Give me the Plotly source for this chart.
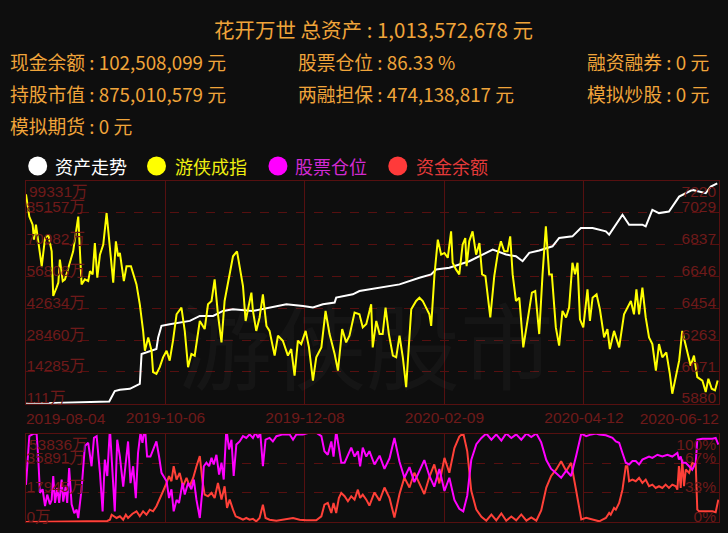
import plotly.graph_objects as go

# ---------------- data ----------------
x_tick_days = [0, 63, 126, 189, 252, 313]
x_tick_labels = ["2019-08-04", "2019-10-06", "2019-12-08", "2020-02-09", "2020-04-12", "2020-06-12"]

asset_ticks = [111, 14285, 28460, 42634, 56808, 70982, 85157, 99331]
index_ticks = [5880, 6071, 6263, 6454, 6646, 6837, 7029, 7220]
cash_ticks = [0, 17945, 35891, 53836]
pos_ticks = [0, 33.33, 66.67, 100]
pos_tick_labels = ["0%", "33%", "67%", "100%"]

# 资产走势 (万)
asset_days = [0, 12.3, 27.4, 37.6, 40.1, 42.4, 46.9, 50.2, 51.4, 52.2,
              54.4, 58.9, 59.7, 61.2, 64.9, 70.9, 74.0, 78.5, 84.5, 89.0,
              93.5, 102.5, 108.6, 114.6, 117.6, 125.1, 129.6, 134.1, 139.4, 140.1,
              147.6, 150.6, 159.7, 168.7, 177.7, 183.0, 185.2, 191.2, 200.2, 204.8,
              210.8, 216.8, 221.3, 224.3, 227.3, 231.8, 237.8, 240.8, 246.8, 250.6,
              255.9, 261.9, 263.4, 269.4, 272.4, 278.4, 279.9, 282.9, 285.9, 290.4,
              295.0, 301.0, 307.0, 309.3, 312.2]
asset_values = [111, 421, 687, 1130, 5737, 6313, 6756, 8217, 8971, 22258,
                23011, 24474, 29657, 34797, 35551, 36570, 37012, 39227, 39227, 41442,
                42196, 41442, 42639, 43656, 44406, 43656, 42947, 44406, 45164, 47379,
                48841, 50303, 51809, 53271, 56239, 57701, 59916, 60669, 63591, 65806,
                68776, 66561, 65806, 63591, 67314, 68333, 70238, 73959, 74668, 78389,
                78389, 76883, 75421, 84281, 79851, 79851, 79098, 86496, 85034, 85742,
                92388, 95356, 93894, 96815, 98318]

# 游侠成指
index_days = [0, 1.5, 3.0, 3.6, 4.5, 5.5, 7.1, 8.6, 10.1, 11.6,
              12.3, 13.8, 14.6, 15.3, 16.6, 17.6, 19.8, 21.3, 23.6, 25.1,
              26.6, 28.1, 28.9, 30.1, 31.1, 32.2, 33.4, 34.9, 36.4, 37.9,
              39.4, 40.6, 41.6, 42.4, 44.2, 45.4, 47.4, 49.9, 51.4, 52.9,
              53.7, 55.2, 56.7, 57.4, 58.9, 60.4, 61.9, 63.5, 64.9, 66.4,
              68.0, 70.2, 71.7, 73.2, 74.7, 76.2, 78.5, 80.7, 82.2, 83.8,
              85.2, 86.7, 88.3, 89.7, 92.0, 93.5, 95.3, 97.3, 98.0, 99.2,
              100.7, 101.8, 102.5, 104.0, 105.5, 107.0, 108.6, 110.0, 112.3, 113.8,
              116.0, 118.3, 119.8, 121.3, 122.8, 124.3, 126.3, 127.8, 129.6, 131.1,
              133.4, 135.3, 137.1, 139.4, 140.9, 142.8, 144.6, 146.1, 148.4, 150.6,
              152.1, 153.7, 155.9, 156.6, 158.2, 159.7, 161.1, 162.4, 163.9, 165.7,
              167.2, 168.7, 170.2, 171.7, 174.0, 176.2, 177.7, 179.2, 180.7, 182.2,
              183.0, 184.5, 186.0, 187.5, 189.0, 190.5, 192.0, 192.7, 194.2, 195.7,
              197.2, 198.4, 199.0, 200.2, 201.7, 203.3, 204.8, 206.0, 207.5, 209.7,
              211.5, 213.0, 214.5, 216.0, 217.5, 218.7, 219.8, 221.3, 222.8, 224.6,
              226.5, 228.5, 230.0, 231.8, 233.3, 234.8, 236.3, 237.5, 239.3, 240.8,
              242.3, 243.9, 245.3, 246.8, 248.0, 249.1, 250.2, 251.7, 253.6, 254.7,
              255.9, 257.7, 259.2, 261.1, 262.6, 263.7, 265.6, 267.9, 270.1, 271.6,
              273.2, 274.6, 275.7, 276.9, 278.4, 279.9, 281.4, 282.9, 284.5, 285.9,
              287.4, 289.2, 290.8, 291.9, 293.5, 295.0, 296.4, 298.7, 300.2, 301.7,
              303.2, 305.5, 307.0, 308.2, 309.7, 311.2, 312.4]
index_values = [7140, 7006, 6957, 6867, 6957, 6857, 6707, 6877, 6897, 6797,
                6528, 6578, 6608, 6747, 6618, 6628, 6728, 6797, 7006, 6598,
                6628, 6618, 6677, 6658, 6847, 6638, 6777, 6837, 7027, 6807,
                6608, 6857, 6767, 6787, 6618, 6707, 6707, 6598, 6478, 6318,
                6199, 6279, 6199, 6070, 6059, 6100, 6159, 6199, 6139, 6259,
                6418, 6458, 6318, 6100, 6179, 6169, 6378, 6329, 6478, 6498,
                6628, 6418, 6249, 6498, 6658, 6767, 6797, 6648, 6588, 6378,
                6468, 6548, 6438, 6318, 6399, 6538, 6348, 6318, 6169, 6289,
                6259, 6169, 6209, 6049, 6259, 6239, 6318, 6219, 6019, 6159,
                6219, 6438, 6299, 6179, 6079, 6329, 6249, 6289, 6428, 6418,
                6339, 6359, 6478, 6219, 6378, 6299, 6299, 6458, 6299, 6169,
                6159, 6289, 6159, 5980, 6448, 6498, 6518, 6498, 6458, 6418,
                6348, 6658, 6867, 6777, 6787, 6758, 6917, 6728, 6688, 6658,
                6837, 6877, 6707, 6857, 6917, 6777, 6847, 6658, 6648, 6399,
                6648, 6777, 6857, 6797, 6797, 6887, 6658, 6498, 6518, 6219,
                6378, 6548, 6558, 6299, 6658, 6947, 6658, 6658, 6339, 6229,
                6438, 6399, 6458, 6728, 6658, 6728, 6388, 6339, 6568, 6378,
                6518, 6538, 6448, 6279, 6329, 6209, 6318, 6219, 6418, 6458,
                6498, 6418, 6568, 6418, 6578, 6399, 6279, 6239, 6079, 6239,
                6159, 6189, 6059, 5940, 6040, 6139, 6318, 6179, 6109, 6169,
                6040, 6019, 5950, 6030, 5970, 5960, 6019]

# 股票仓位 (%)
pos_days = [0, 1.5, 3.3, 4.8, 5.5, 6.3, 7.5, 8.6, 9.6, 10.8,
            11.6, 12.3, 13.1, 14.1, 15.0, 16.1, 16.8, 17.9, 18.6, 19.5,
            20.6, 21.8, 22.9, 23.6, 25.1, 26.6, 28.1, 29.6, 30.7, 31.9,
            33.4, 34.6, 35.6, 36.7, 37.9, 39.1, 40.1, 41.2, 42.4, 43.9,
            45.1, 46.1, 47.2, 48.4, 49.6, 50.6, 51.7, 52.6, 53.7, 54.7,
            56.2, 57.4, 58.9, 60.1, 61.2, 63.5, 64.6, 65.7, 66.7, 68.0,
            69.1, 70.7, 71.7, 73.2, 74.7, 75.8, 77.0, 78.5, 79.7, 80.3,
            81.5, 82.7, 83.8, 84.8, 86.0, 87.2, 88.3, 89.3, 90.5, 91.7,
            92.8, 93.8, 95.0, 96.5, 98.0, 99.5, 101.0, 102.5, 103.7, 104.8,
            105.8, 107.0, 108.2, 110.0, 111.5, 113.1, 116.0, 119.1, 120.6, 122.1,
            125.1, 128.1, 131.1, 133.4, 134.8, 136.3, 137.9, 138.9, 140.1, 141.3,
            142.4, 143.9, 145.4, 146.9, 148.4, 149.9, 150.9, 152.1, 153.7, 155.1,
            157.4, 159.7, 161.9, 164.2, 166.4, 168.7, 170.9, 173.2, 175.4, 177.7,
            179.9, 182.2, 184.4, 186.7, 189.0, 191.2, 193.5, 195.7, 197.5, 199.3,
            201.1, 203.4, 205.7, 207.9, 210.2, 212.4, 214.7, 216.9, 219.2, 221.4,
            223.7, 226.0, 228.2, 230.5, 232.7, 235.0, 237.2, 239.5, 241.7, 244.0,
            246.2, 248.5, 250.8, 253.0, 255.3, 257.5, 258.9, 261.9, 264.9, 266.4,
            267.9, 269.4, 270.9, 272.4, 273.9, 275.4, 276.9, 278.4, 281.4, 282.9,
            285.2, 287.4, 289.7, 291.9, 294.2, 294.9, 295.7, 296.4, 298.0, 299.5,
            300.9, 302.5, 303.2, 305.5, 310.0, 311.5, 312.7]
pos_values = [42, 97, 99.7, 99.7, 74, 33, 37, 18, 31, 20,
              25, 52, 21.5, 38.5, 21.5, 48, 23, 40, 21.5, 61,
              20, 10, 14, 4.5, 37, 86, 89.5, 63, 95, 97,
              55.5, 12, 70.5, 52, 106, 52, 12, 93, 74, 40,
              69, 91, 44, 63, 27, 78, 100.8, 89.5, 108, 74,
              74, 82, 91, 74, 55.5, 46, 27, 37, 12, 25,
              21.5, 44, 31, 44, 37, 48, 25, 4.5, 37, 63,
              67, 63, 72.5, 65, 76, 53.5, 67, 48, 106, 82,
              93, 52, 87.5, 91, 97, 95, 99, 95, 101, 95,
              101, 63, 93, 95, 91, 97, 99, 99, 93, 99,
              99, 101, 101, 97, 80, 76, 91, 74, 103, 84,
              67, 67, 76, 84, 74, 80, 63, 84, 74, 80,
              65, 75, 60, 72, 95, 68, 50, 62, 45, 58,
              70, 52, 40, 60, 35, 50, 25, 15, 12, 30,
              70, 88, 95, 100, 93, 99, 92, 100, 95, 99,
              93, 100, 96, 100, 90, 70, 60, 55, 50, 58,
              52, 75, 100, 97, 99, 100, 99, 98, 95, 91,
              89.5, 78, 67, 65, 69, 69, 65, 70.5, 74, 72.5,
              76, 74, 76, 74, 78, 70.5, 74, 67, 67, 63,
              59, 67, 93, 94, 94, 95, 87.5]

# 资金余额 (万)
cash_days = [0, 8, 16, 24, 32, 36.7, 37.9, 38.7, 40.9, 42.4,
             43.9, 45.1, 46.1, 48.1, 49.9, 51.4, 52.9, 54.4, 55.9, 57.4,
             58.9, 60.4, 61.9, 63.5, 64.6, 65.7, 66.7, 68.0, 69.4, 70.9,
             72.5, 73.9, 75.5, 77.0, 78.5, 79.7, 80.7, 82.2, 83.8, 85.2,
             86.7, 88.3, 89.7, 90.8, 92.0, 93.5, 94.7, 96.5, 98.0, 99.5,
             101.0, 102.5, 104.0, 105.5, 107.0, 108.2, 110.0, 113.1, 116.0, 120.6,
             123.6, 126.6, 131.1, 133.4, 134.8, 136.3, 137.9, 138.9, 140.1, 141.3,
             142.4, 143.9, 145.4, 146.9, 148.4, 149.9, 150.9, 152.1, 153.7, 155.1,
             157.4, 159.7, 161.9, 164.2, 166.4, 168.7, 170.9, 173.2, 175.4, 177.7,
             179.9, 182.2, 184.4, 186.7, 189.0, 191.2, 193.5, 195.7, 197.5, 199.3,
             201.1, 203.4, 205.7, 207.9, 210.2, 212.4, 214.7, 216.9, 219.2, 221.4,
             223.7, 226.0, 228.2, 230.5, 232.7, 235.0, 237.2, 239.5, 241.7, 244.0,
             246.2, 248.5, 250.8, 253.0, 255.3, 257.5, 258.9, 260.4, 261.9, 263.4,
             264.1, 265.6, 266.4, 267.9, 269.4, 270.9, 271.6, 272.4, 273.9, 275.4,
             276.9, 278.4, 279.9, 281.4, 282.9, 284.4, 285.9, 287.4, 288.9, 290.4,
             291.9, 293.5, 294.2, 294.9, 295.7, 296.4, 297.2, 298.0, 299.5, 300.9,
             302.5, 303.2, 304.0, 310.0, 311.5, 312.7]
cash_values = [30, 60, 90, 150, 300, 600, 1400, 4450, 2440, 3470,
               1400, 4450, 2440, 5060, 6520, 3470, 6520, 4450, 7500, 6520,
               9570, 14630, 18700, 23780, 27860, 24810, 33960, 25790, 29880, 21760,
               26820, 21760, 26820, 33960, 40050, 24810, 16660, 15670, 17680, 14630,
               23780, 13600, 21760, 8540, 13600, 7500, 3470, 2440, 1400, 2440,
               1400, 1900, 400, 2440, 10540, 2440, 1400, 800, 1400, 2440,
               1400, 1000, 1000, 3470, 10540, 11580, 5490, 11580, 5490, 14630,
               17680, 15670, 12610, 15670, 13600, 19690, 14630, 16660, 13600, 10000,
               18000, 13000, 21000, 14500, 2700, 17000, 27000, 21000, 30000, 23500,
               17000, 27500, 35000, 23500, 39000, 30000, 45000, 52000, 54000, 43000,
               19000, 7500, 3200, 800, 4500, 1000, 5200, 800, 3300, 1000,
               4600, 800, 2800, 800, 7000, 21000, 28000, 32000, 37000, 31000,
               36000, 19000, 1500, 2500, 1500, 800, 400, 1400, 2440, 5490,
               4450, 8540, 7500, 11580, 19690, 33960, 33960, 24810, 25790, 24810,
               26820, 23780, 25790, 21760, 22740, 20730, 21760, 20730, 22740, 20730,
               22740, 21760, 19690, 33960, 20730, 37990, 21760, 31900, 29880, 35970,
               34960, 7500, 6520, 6520, 5910, 13600]

# ---------------- style ----------------
BG = "#0e0e0e"
GRID = "#561010"
LABEL = "#6e1a1a"
ORANGE = "#f0a43a"
CJK = "Noto Sans CJK SC"
NUMFONT = "Liberation Sans, Noto Sans CJK SC"

W, H = 728, 533
ML, MR, MT, MB = 26, 8, 181, 9
PW, PH = W - ML - MR, H - MT - MB


def px(x):
    return (x - ML) / PW


def py(y):
    return (H - MB - y) / PH


top_dom = [py(405), 1.0]
bot_dom = [0.0, py(435)]
xr = [x_tick_days[0], x_tick_days[-1]]

fig = go.Figure()
fig.add_trace(go.Scatter(x=asset_days, y=asset_values, mode="lines", name="资产走势",
                         line=dict(color="#ffffff", width=2), xaxis="x", yaxis="y"))
fig.add_trace(go.Scatter(x=index_days, y=index_values, mode="lines", name="游侠成指",
                         line=dict(color="#ffff00", width=2), xaxis="x", yaxis="y2"))
fig.add_trace(go.Scatter(x=cash_days, y=cash_values, mode="lines", name="资金余额",
                         line=dict(color="#ff4038", width=2), xaxis="x4", yaxis="y5"))
fig.add_trace(go.Scatter(x=pos_days, y=pos_values, mode="lines", name="股票仓位",
                         line=dict(color="#ff00ff", width=2), xaxis="x4", yaxis="y6"))

# empty helper traces so that the label-only overlay axes are drawn
for xa, ya in [("x2", "y9"), ("x3", "y9"), ("x", "y3"), ("x", "y4"), ("x4", "y7"), ("x4", "y8")]:
    fig.add_trace(go.Scatter(x=[None], y=[None], mode="lines", xaxis=xa, yaxis=ya,
                             hoverinfo="skip", showlegend=False))

tickfont = dict(color=LABEL, size=15.5, family=NUMFONT)
base_x = dict(range=xr, ticks="", zeroline=False, fixedrange=True, tickfont=tickfont)
base_y = dict(ticks="", zeroline=False, fixedrange=True, tickfont=tickfont, tickmode="array",
              ticklabeloverflow="allow")
SHIFT = 5

layout = dict(
    width=W, height=H, autosize=False,
    margin=dict(l=ML, r=MR, t=MT, b=MB, pad=0),
    paper_bgcolor=BG, plot_bgcolor=BG,
    showlegend=False,
    xaxis=dict(base_x, domain=[0, 1], anchor="y", tickmode="array",
               tickvals=x_tick_days[1:-1], ticktext=x_tick_labels[1:-1],
               showgrid=True, gridcolor=GRID, gridwidth=1,
               showline=True, linecolor=GRID, linewidth=1, mirror=True),
    xaxis2=dict(base_x, overlaying="x", anchor="y9", side="bottom",
                tickmode="array", tickvals=x_tick_days[:1], ticktext=x_tick_labels[:1],
                ticklabelposition="outside right", ticklabeloverflow="allow",
                ticklabelstandoff=4, showgrid=False, showline=False),
    xaxis3=dict(base_x, overlaying="x", anchor="y9", side="bottom",
                tickmode="array", tickvals=x_tick_days[-1:], ticktext=x_tick_labels[-1:],
                ticklabelposition="outside left", ticklabeloverflow="allow",
                ticklabelstandoff=4, showgrid=False, showline=False),
    xaxis4=dict(base_x, domain=[0, 1], anchor="y5", tickmode="array",
                tickvals=x_tick_days[1:-1], showticklabels=False,
                showgrid=True, gridcolor=GRID, gridwidth=1,
                showline=True, linecolor=GRID, linewidth=1, mirror=True),
    yaxis=dict(base_y, domain=top_dom, anchor="x", range=[asset_ticks[0], asset_ticks[-1]],
               tickvals=asset_ticks[:-1], ticktext=[f"{v}万" for v in asset_ticks[:-1]],
               ticklabelposition="inside top", ticklabelshift=SHIFT,
               showgrid=True, gridcolor=GRID, griddash="dash",
               showline=True, linecolor=GRID, linewidth=1, mirror=True),
    yaxis2=dict(base_y, overlaying="y", side="right", anchor="x",
                range=[index_ticks[0], index_ticks[-1]],
                tickvals=index_ticks[:-1], ticktext=[str(v) for v in index_ticks[:-1]],
                ticklabelposition="inside top", ticklabelshift=SHIFT, showgrid=False, showline=False),
    yaxis3=dict(base_y, overlaying="y", side="left", anchor="x",
                range=[asset_ticks[0], asset_ticks[-1]],
                tickvals=asset_ticks[-1:], ticktext=[f"{asset_ticks[-1]}万"],
                ticklabelposition="inside bottom", showgrid=False, showline=False),
    yaxis4=dict(base_y, overlaying="y", side="right", anchor="x",
                range=[index_ticks[0], index_ticks[-1]],
                tickvals=index_ticks[-1:], ticktext=[str(index_ticks[-1])],
                ticklabelposition="inside bottom", showgrid=False, showline=False),
    yaxis5=dict(base_y, domain=bot_dom, anchor="x4", range=[cash_ticks[0], cash_ticks[-1]],
                tickvals=cash_ticks[:-1], ticktext=[f"{v}万" for v in cash_ticks[:-1]],
                ticklabelposition="inside top", ticklabelshift=SHIFT,
                showgrid=True, gridcolor=GRID, griddash="dash",
                showline=True, linecolor=GRID, linewidth=1, mirror=True),
    yaxis6=dict(base_y, overlaying="y5", side="right", anchor="x4",
                range=[pos_ticks[0], pos_ticks[-1]],
                tickvals=pos_ticks[:-1], ticktext=pos_tick_labels[:-1],
                ticklabelposition="inside top", ticklabelshift=SHIFT, showgrid=False, showline=False),
    yaxis7=dict(base_y, overlaying="y5", side="left", anchor="x4",
                range=[cash_ticks[0], cash_ticks[-1]],
                tickvals=cash_ticks[-1:], ticktext=[f"{cash_ticks[-1]}万"],
                ticklabelposition="inside bottom", showgrid=False, showline=False),
    yaxis8=dict(base_y, overlaying="y5", side="right", anchor="x4",
                range=[pos_ticks[0], pos_ticks[-1]],
                tickvals=pos_ticks[-1:], ticktext=pos_tick_labels[-1:],
                ticklabelposition="inside bottom", showgrid=False, showline=False),
    # blank companion axis for the end-label x axes
    yaxis9=dict(overlaying="y", anchor="x2", range=[0, 1], visible=False, fixedrange=True),
)
fig.update_layout(**layout)

annotations = []
# watermark
annotations.append(dict(text="游侠股市", xref="paper", yref="paper", x=px(366), y=py(343),
                        showarrow=False, xanchor="center", yanchor="middle",
                        font=dict(family=CJK, size=94, color="rgba(255,255,255,0.03)")))
# header
annotations.append(dict(text="花开万世 总资产 : 1,013,572,678 元", xref="paper", yref="paper",
                        x=px(374), y=py(28), showarrow=False, xanchor="center", yanchor="middle",
                        font=dict(family=CJK, size=20.5, color=ORANGE)))
header_rows = [
    ("现金余额 : 102,508,099 元", 8, 61), ("股票仓位 : 86.33 %", 296, 61), ("融资融券 : 0 元", 586, 61),
    ("持股市值 : 875,010,579 元", 8, 93), ("两融担保 : 474,138,817 元", 296, 93), ("模拟炒股 : 0 元", 586, 93),
    ("模拟期货 : 0 元", 8, 125),
]
for t, x, y in header_rows:
    annotations.append(dict(text=t, xref="paper", yref="paper", x=px(x), y=py(y),
                            showarrow=False, xanchor="left", yanchor="middle",
                            font=dict(family=CJK, size=18.8, color=ORANGE)))

# legend
legend_items = [("资产走势", "#ffffff", "#ffffff", 37.7, 53),
                ("游侠成指", "#ffff00", "#eeee10", 156.7, 173),
                ("股票仓位", "#ff00ff", "#d22ad2", 278.3, 293),
                ("资金余额", "#ff3a3a", "#e33a3a", 398.3, 415)]
shapes = []
for name, ccol, tcol, cx, tx in legend_items:
    shapes.append(dict(type="circle", xref="paper", yref="paper", xsizemode="pixel", ysizemode="pixel",
                       xanchor=px(cx), yanchor=py(166), x0=-9.5, x1=9.5, y0=-9.5, y1=9.5,
                       fillcolor=ccol, line=dict(width=0)))
    annotations.append(dict(text=name, xref="paper", yref="paper", x=px(tx), y=py(166),
                            showarrow=False, xanchor="left", yanchor="middle",
                            font=dict(family=CJK, size=18, color=tcol)))

fig.update_layout(annotations=annotations, shapes=shapes)
fig.write_html("out.html", config={"displayModeBar": False},
               post_script="document.body.style.margin='0';document.body.style.background='#0e0e0e';"
                           "document.documentElement.style.overflow='hidden';")
